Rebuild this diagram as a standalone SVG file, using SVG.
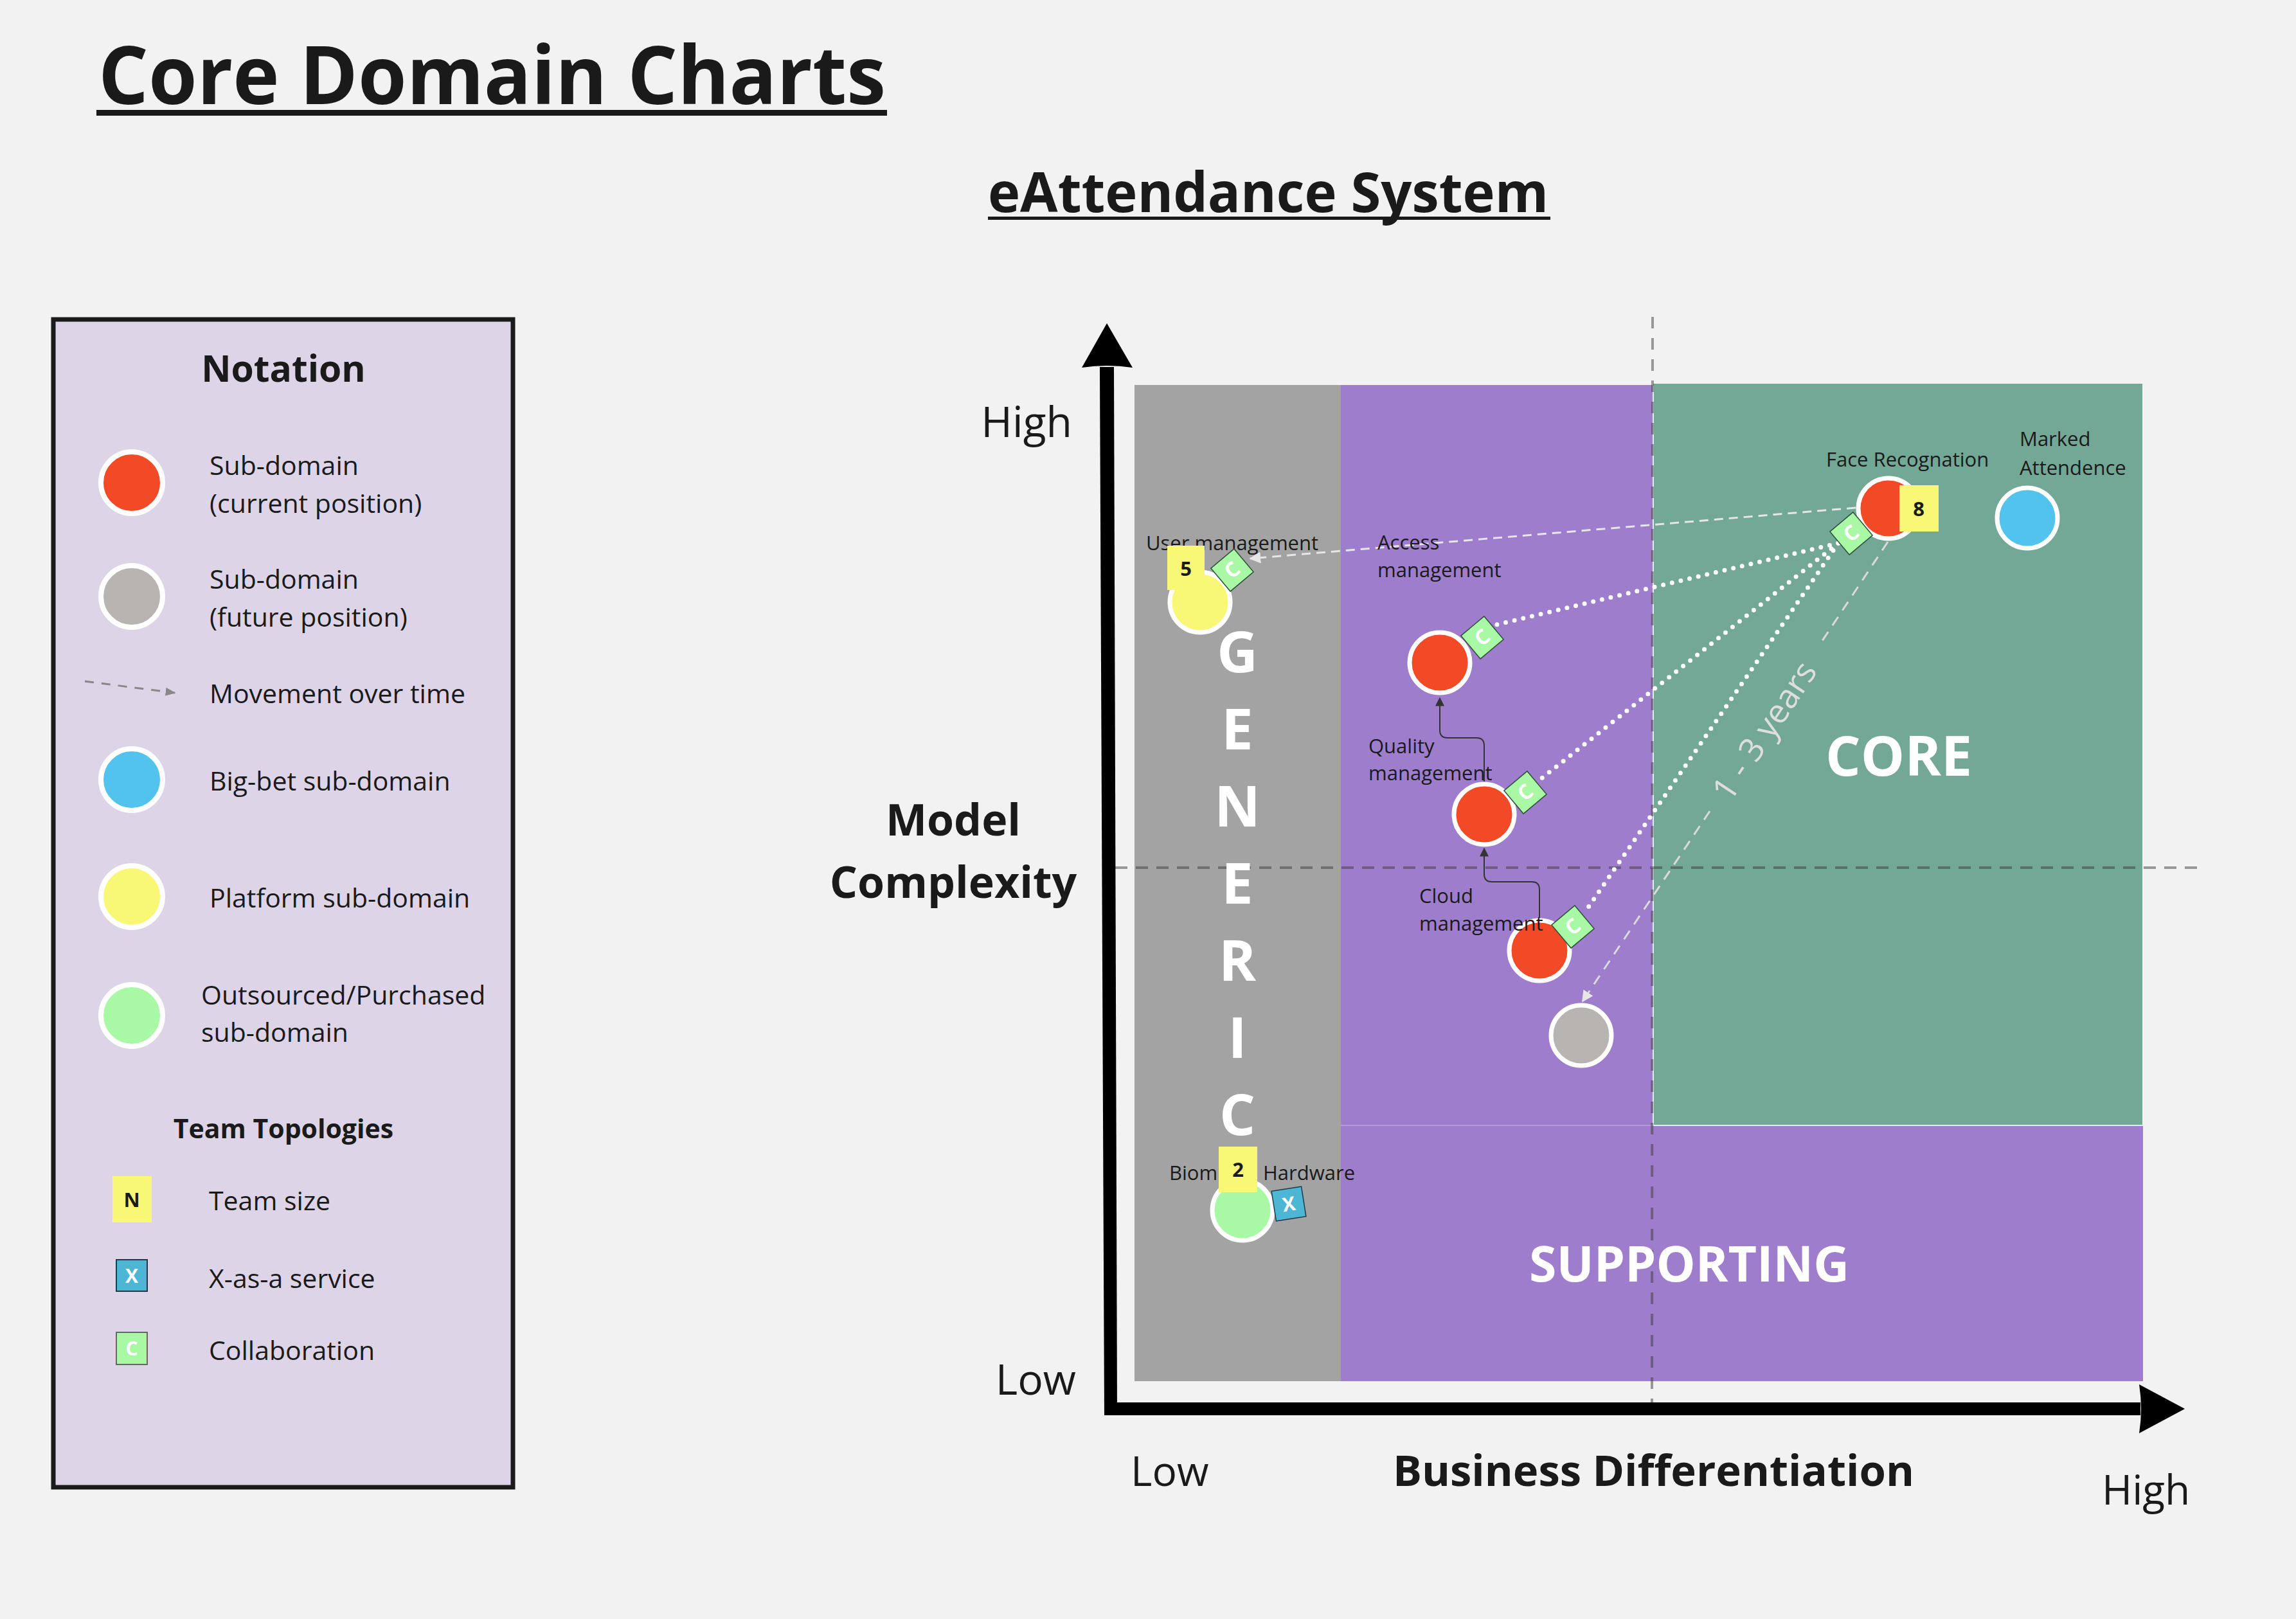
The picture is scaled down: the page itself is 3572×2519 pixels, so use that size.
<svg xmlns="http://www.w3.org/2000/svg" width="3572" height="2519" viewBox="0 0 3572 2519">
  <defs>
    <style>
      .f { font-family: 'Open Sans', 'Noto Sans', 'Liberation Sans', sans-serif; }
      .lbl { font-family: 'Open Sans', 'Noto Sans', 'Liberation Sans', sans-serif; font-size: 31px; fill: #1a1a1a; }
      .leg { font-family: 'Open Sans', 'Noto Sans', 'Liberation Sans', sans-serif; font-size: 41px; fill: #1a1a1a; }
      .bold { font-weight: 700; }
      .zone { font-family: 'Open Sans', 'Noto Sans', 'Liberation Sans', sans-serif; font-weight: 700; fill: #ffffff; }
      .sd { stroke: #ffffff; stroke-width: 7; }
      .red { fill: #f24a27; }
      .grey { fill: #b7b4b2; }
      .blue { fill: #52c3ec; }
      .yel { fill: #f8f876; }
      .grn { fill: #a8f8a5; }
      .badge-n { fill: #f8f876; }
      .num { font-family: 'Open Sans', 'Noto Sans', 'Liberation Sans', sans-serif; font-weight: 700; font-size: 31px; fill: #1a1a1a; text-anchor: middle; }
      .collab rect { fill: #a8f8a5; stroke: #2f4f3a; stroke-width: 1.5; }
      .collab text { font-family: 'Open Sans', 'Noto Sans', 'Liberation Sans', sans-serif; font-weight: 700; font-size: 32px; fill: #ffffff; text-anchor: middle; }
      .guide { fill: none; stroke: #3c3c3c; stroke-opacity: 0.5; stroke-width: 4; }
    </style>
    <marker id="ahWhite" viewBox="0 0 10 10" refX="9" refY="5" markerWidth="18" markerHeight="18" markerUnits="userSpaceOnUse" orient="auto">
      <path d="M0,0 L10,5 L0,10 Z" fill="#e6e6e6"/>
    </marker>
    <marker id="ahDark" viewBox="0 0 10 10" refX="9" refY="5" markerWidth="14" markerHeight="14" markerUnits="userSpaceOnUse" orient="auto">
      <path d="M0,0 L10,5 L0,10 Z" fill="#333333"/>
    </marker>
    <marker id="ahGrey" viewBox="0 0 10 10" refX="9" refY="5" markerWidth="16" markerHeight="16" markerUnits="userSpaceOnUse" orient="auto">
      <path d="M0,1 L10,5 L0,9 Z" fill="#888888"/>
    </marker>
  </defs>

  <!-- page -->
  <rect x="0" y="0" width="3572" height="2519" fill="#f2f2f2"/>

  <!-- headings -->
  <g id="title">
    <text class="f bold" x="153" y="162" font-size="125" fill="#1a1a1a" textLength="1225" lengthAdjust="spacingAndGlyphs">Core Domain Charts</text>
    <rect x="150" y="171" width="1230" height="9" fill="#1a1a1a"/>
  </g>
  <g id="subtitle">
    <text class="f bold" x="1537" y="330" font-size="86" fill="#1a1a1a" textLength="872" lengthAdjust="spacingAndGlyphs">eAttendance System</text>
    <rect x="1537" y="337" width="875" height="5" fill="#1a1a1a"/>
  </g>

  <!-- legend -->
  <g id="legend">
    <rect x="83" y="497" width="715" height="1817" fill="#ddd4e7" stroke="#1a1a1a" stroke-width="7"/>
    <text class="f bold" x="441" y="594" font-size="57" fill="#1a1a1a" text-anchor="middle">Notation</text>

    <circle cx="205" cy="751" r="48" class="red" stroke="#ffffff" stroke-width="8"/>
    <text class="leg" x="326" y="739">Sub-domain</text>
    <text class="leg" x="326" y="798">(current position)</text>

    <circle cx="205" cy="928" r="48" class="grey" stroke="#ffffff" stroke-width="8"/>
    <text class="leg" x="326" y="916">Sub-domain</text>
    <text class="leg" x="326" y="975">(future position)</text>

    <path d="M132,1060 L272,1078" fill="none" stroke="#888888" stroke-width="3" stroke-dasharray="14 12" marker-end="url(#ahGrey)"/>
    <text class="leg" x="326" y="1094">Movement over time</text>

    <circle cx="205" cy="1213" r="48" class="blue" stroke="#ffffff" stroke-width="8"/>
    <text class="leg" x="326" y="1230">Big-bet sub-domain</text>

    <circle cx="205" cy="1395" r="48" class="yel" stroke="#ffffff" stroke-width="8"/>
    <text class="leg" x="326" y="1412">Platform sub-domain</text>

    <circle cx="205" cy="1580" r="48" class="grn" stroke="#ffffff" stroke-width="8"/>
    <text class="leg" x="313" y="1563">Outsourced/Purchased</text>
    <text class="leg" x="313" y="1621">sub-domain</text>

    <text class="f bold" x="441" y="1771" font-size="41" fill="#1a1a1a" text-anchor="middle">Team Topologies</text>

    <rect x="175" y="1830" width="61" height="72" class="badge-n"/>
    <text class="num" x="205" y="1878" font-size="33">N</text>
    <text class="leg" x="325" y="1883">Team size</text>

    <rect x="181" y="1960" width="48" height="49" fill="#4db6d4" stroke="#1f3a48" stroke-width="2"/>
    <text class="f bold" x="205" y="1996" font-size="30" fill="#ffffff" text-anchor="middle">X</text>
    <text class="leg" x="325" y="2004">X-as-a service</text>

    <rect x="181" y="2073" width="48" height="50" fill="#a8f8a5" stroke="#666666" stroke-width="2"/>
    <text class="f bold" x="205" y="2109" font-size="30" fill="#ffffff" text-anchor="middle">C</text>
    <text class="leg" x="325" y="2116">Collaboration</text>
  </g>

  <!-- chart regions -->
  <g id="regions">
    <rect x="1765" y="599" width="321" height="1550" fill="#a3a3a3"/>
    <rect x="2086" y="599" width="1248" height="1550" fill="#9e7dcc"/>
    <line x1="2086" y1="1751" x2="3334" y2="1751" stroke="#b39bd8" stroke-width="2"/>
    <rect x="2572" y="599" width="762" height="1152" fill="#72a895" stroke="#dfeee8" stroke-width="2"/>
    <rect x="2572" y="597" width="764" height="3" fill="#72a895"/>
    <rect x="3333" y="597" width="3" height="1154" fill="#f2f2f2"/>
  </g>

  <!-- quadrant guides -->
  <g id="guides">
    <line class="guide" x1="2571" y1="493" x2="2570" y2="2182" stroke-dasharray="18 15"/>
    <line class="guide" x1="1735" y1="1350" x2="3420" y2="1350" stroke-dasharray="19 13"/>
  </g>

  <!-- zone names -->
  <g id="zone-generic">
    <text class="zone" x="1925" y="1046" font-size="88" text-anchor="middle">G</text>
    <text class="zone" x="1925" y="1166" font-size="88" text-anchor="middle">E</text>
    <text class="zone" x="1925" y="1286" font-size="88" text-anchor="middle">N</text>
    <text class="zone" x="1925" y="1406" font-size="88" text-anchor="middle">E</text>
    <text class="zone" x="1925" y="1526" font-size="88" text-anchor="middle">R</text>
    <text class="zone" x="1925" y="1646" font-size="88" text-anchor="middle">I</text>
    <text class="zone" x="1925" y="1766" font-size="88" text-anchor="middle">C</text>
  </g>
  <g id="zone-core">
    <text class="zone" x="2954" y="1207" font-size="86" text-anchor="middle">CORE</text>
  </g>
  <g id="zone-supporting">
    <text class="zone" x="2628" y="1994" font-size="77" text-anchor="middle">SUPPORTING</text>
  </g>

  <!-- axes -->
  <g id="axes">
    <polygon points="1711,571 1733,571 1738,2202 1718,2202" fill="#000000"/>
    <path d="M1722,503 L1762,572 Q1722,566 1683,572 Z" fill="#000000"/>
    <rect x="1718" y="2182" width="1612" height="20" fill="#000000"/>
    <path d="M3399,2192 L3328,2230 Q3334,2192 3328,2154 Z" fill="#000000"/>
    <text class="f" x="1668" y="680" font-size="66" fill="#1a1a1a" text-anchor="end">High</text>
    <text class="f bold" x="1483" y="1300" font-size="68" fill="#1a1a1a" text-anchor="middle">Model</text>
    <text class="f bold" x="1483" y="1397" font-size="68" fill="#1a1a1a" text-anchor="middle">Complexity</text>
    <text class="f" x="1674" y="2170" font-size="66" fill="#1a1a1a" text-anchor="end">Low</text>
    <text class="f" x="1759" y="2312" font-size="64" fill="#1a1a1a">Low</text>
    <text class="f bold" x="2167" y="2312" font-size="67" fill="#1a1a1a">Business Differentiation</text>
    <text class="f" x="3270" y="2341" font-size="64" fill="#1a1a1a">High</text>
  </g>

  <!-- connectors -->
  <g id="connectors">
    <path d="M2887,790 L1945,869" fill="none" stroke="#e6e6e6" stroke-width="3" stroke-dasharray="14 9" marker-end="url(#ahWhite)"/>
    <path d="M2860,845 L2328,972" fill="none" stroke="#ffffff" stroke-width="7" stroke-linecap="round" stroke-dasharray="0 14"/>
    <path d="M2860,845 L2392,1216" fill="none" stroke="#ffffff" stroke-width="7" stroke-linecap="round" stroke-dasharray="0 14"/>
    <path d="M2860,845 L2470,1413" fill="none" stroke="#ffffff" stroke-width="7" stroke-linecap="round" stroke-dasharray="0 14"/>
    <path d="M2937,843 L2833,1000" fill="none" stroke="#dadada" stroke-width="3" stroke-dasharray="16 12"/>
    <path d="M2660,1262 L2462,1558" fill="none" stroke="#dadada" stroke-width="3" stroke-dasharray="16 12" marker-end="url(#ahWhite)"/>
    <text class="f" transform="translate(2745,1137) rotate(-56.3)" x="0" y="18" font-size="52" fill="#dedede" text-anchor="middle">1 - 3 years</text>
    <path d="M2309,1216 V1160 Q2309,1148 2297,1148 H2252 Q2240,1148 2240,1136 V1086" fill="none" stroke="#333333" stroke-width="2" marker-end="url(#ahDark)"/>
    <path d="M2395,1428 V1384 Q2395,1372 2383,1372 H2321 Q2309,1372 2309,1360 V1320" fill="none" stroke="#333333" stroke-width="2" marker-end="url(#ahDark)"/>
  </g>

  <!-- sub-domains -->
  <g id="user-management">
    <text class="lbl" x="1783" y="856">User management</text>
    <circle cx="1867" cy="937" r="47" class="yel sd"/>
    <rect x="1816" y="849" width="58" height="69" class="badge-n"/>
    <text class="num" x="1845" y="896">5</text>
    <g class="collab" transform="translate(1917,887) rotate(-40)">
      <rect x="-23.5" y="-23.5" width="47" height="47"/>
      <text x="0" y="11">C</text>
    </g>
  </g>

  <g id="access-management">
    <text class="lbl" x="2143" y="855">Access</text>
    <text class="lbl" x="2143" y="898">management</text>
    <circle cx="2240" cy="1031" r="47" class="red sd"/>
    <g class="collab" transform="translate(2306,992) rotate(-40)">
      <rect x="-23.5" y="-23.5" width="47" height="47"/>
      <text x="0" y="11">C</text>
    </g>
  </g>

  <g id="quality-management">
    <circle cx="2309" cy="1267" r="47" class="red sd"/>
    <text class="lbl" x="2129" y="1172">Quality</text>
    <text class="lbl" x="2129" y="1214">management</text>
    <g class="collab" transform="translate(2373,1233) rotate(-40)">
      <rect x="-23.5" y="-23.5" width="47" height="47"/>
      <text x="0" y="11">C</text>
    </g>
  </g>

  <g id="cloud-management">
    <circle cx="2395" cy="1479" r="47" class="red sd"/>
    <text class="lbl" x="2208" y="1405">Cloud</text>
    <text class="lbl" x="2208" y="1448">management</text>
    <g class="collab" transform="translate(2447,1442) rotate(-40)">
      <rect x="-23.5" y="-23.5" width="47" height="47"/>
      <text x="0" y="11">C</text>
    </g>
  </g>

  <g id="cloud-management-future">
    <circle cx="2460" cy="1611" r="47" class="grey sd"/>
  </g>

  <g id="face-recognation">
    <text class="lbl" x="2841" y="726">Face Recognation</text>
    <circle cx="2938" cy="791" r="47" class="red sd"/>
    <rect x="2955" y="755" width="61" height="72" class="badge-n"/>
    <text class="num" x="2985" y="803">8</text>
    <g class="collab" transform="translate(2880,830) rotate(-40)">
      <rect x="-23.5" y="-23.5" width="47" height="47"/>
      <text x="0" y="11">C</text>
    </g>
  </g>

  <g id="marked-attendence">
    <text class="lbl" x="3142" y="694">Marked</text>
    <text class="lbl" x="3142" y="739">Attendence</text>
    <circle cx="3154" cy="806" r="47" class="blue sd"/>
  </g>

  <g id="biometric-hardware">
    <text class="lbl" x="1819" y="1836">Biom</text>
    <text class="lbl" x="1965" y="1836">Hardware</text>
    <circle cx="1933" cy="1883" r="47" class="grn sd"/>
    <rect x="1896" y="1784" width="60" height="71" class="badge-n"/>
    <text class="num" x="1926" y="1831">2</text>
    <g transform="translate(2005,1873) rotate(-9)">
      <rect x="-23.5" y="-23.5" width="47" height="47" fill="#4db6d4" stroke="#1f3a48" stroke-width="1.5"/>
      <text class="f bold" x="0" y="11" font-size="30" fill="#ffffff" text-anchor="middle">X</text>
    </g>
  </g>
</svg>
